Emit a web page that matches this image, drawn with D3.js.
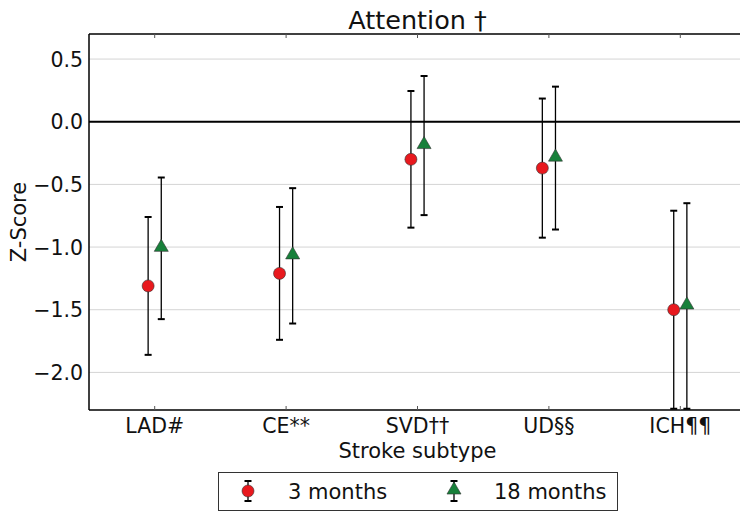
<!DOCTYPE html>
<html><head><meta charset="utf-8">
<script src="https://cdn.jsdelivr.net/npm/d3@7"></script>
<style>body{margin:0;background:#fff;}svg{display:block;font-family:"DejaVu Sans",sans-serif;}</style>
</head><body>
<svg id="c" width="740" height="512"></svg>
<script>
const categories = ["LAD#", "CE**", "SVD††", "UD§§", "ICH¶¶"];
const seriesNames = ["3 months", "18 months"];
const mean3 = [-1.31, -1.21, -0.30, -0.37, -1.50];
const err3 = [0.55, 0.53, 0.545, 0.555, 0.79];
const mean18 = [-1.01, -1.07, -0.19, -0.29, -1.47];
const err18 = [0.565, 0.54, 0.555, 0.57, 0.82];
const yTicks = [0.5, 0.0, -0.5, -1.0, -1.5, -2.0];
const yTickLabels = ["0.5", "0.0", "\u22120.5", "\u22121.0", "\u22121.5", "\u22122.0"];

const svg = d3.select("#c");
const L = 89, R = 746, T = 34, B = 410;
const x = d3.scaleLinear().domain([-0.5, 4.5]).range([L, R]);
const y = d3.scaleLinear().domain([-2.3, 0.7]).range([B, T]);
const off = 0.05;
const red = "#e8191e", green = "#17803a";

const defs = svg.append("defs");
defs.append("clipPath").attr("id", "clip").append("rect")
  .attr("x", L).attr("y", T).attr("width", R - L).attr("height", B - T + 1);

// grid
svg.append("g").selectAll("line").data(yTicks).join("line")
  .attr("x1", L).attr("x2", R).attr("y1", d => y(d)).attr("y2", d => y(d))
  .attr("stroke", "#d4d4d4").attr("stroke-width", 1);
// zero line
svg.append("line").attr("x1", L).attr("x2", R).attr("y1", y(0)).attr("y2", y(0))
  .attr("stroke", "#000").attr("stroke-width", 2);

// spines
svg.append("line").attr("x1", L).attr("x2", R).attr("y1", T).attr("y2", T).attr("stroke", "#000").attr("stroke-width", 1.5);
svg.append("line").attr("x1", L).attr("x2", R).attr("y1", B).attr("y2", B).attr("stroke", "#000").attr("stroke-width", 1.5);
svg.append("line").attr("x1", L).attr("x2", L).attr("y1", T).attr("y2", B).attr("stroke", "#000").attr("stroke-width", 1.5);

// x ticks (inward, top and bottom)
const xi = d3.range(categories.length);
svg.append("g").selectAll("line").data(xi).join("line")
  .attr("x1", d => x(d)).attr("x2", d => x(d)).attr("y1", B).attr("y2", B - 4)
  .attr("stroke", "#555").attr("stroke-width", 1);
svg.append("g").selectAll("line").data(xi).join("line")
  .attr("x1", d => x(d)).attr("x2", d => x(d)).attr("y1", T).attr("y2", T + 4)
  .attr("stroke", "#555").attr("stroke-width", 1);

// x labels
svg.append("g").selectAll("text").data(categories).join("text")
  .attr("x", (d, i) => x(i)).attr("y", 433).attr("text-anchor", "middle")
  .attr("font-size", 20.5).attr("fill", "#111").text(d => d);
// y labels
svg.append("g").selectAll("text").data(yTicks).join("text")
  .attr("x", L - 6).attr("y", d => y(d) + 7.5).attr("text-anchor", "end")
  .attr("font-size", 20.5).attr("fill", "#111").text((d, i) => yTickLabels[i]);

// axis titles
svg.append("text").attr("x", (L + R) / 2).attr("y", 29).attr("text-anchor", "middle")
  .attr("font-size", 25.5).attr("fill", "#111").text("Attention \u2020");
svg.append("text").attr("x", (L + R) / 2).attr("y", 458).attr("text-anchor", "middle")
  .attr("font-size", 21).attr("fill", "#111").text("Stroke subtype");
svg.append("text").attr("transform", `translate(26,${(T + B) / 2}) rotate(-90)`)
  .attr("text-anchor", "middle").attr("font-size", 21).attr("fill", "#111").text("Z-Score");

const plot = svg.append("g").attr("clip-path", "url(#clip)");

function errbars(means, errs, dx) {
  const g = plot.append("g");
  means.forEach((m, i) => {
    const cx = x(i + dx);
    const y1 = y(m + errs[i]), y2 = y(m - errs[i]);
    g.append("line").attr("x1", cx).attr("x2", cx).attr("y1", y1).attr("y2", y2)
      .attr("stroke", "#000").attr("stroke-width", 1.3);
    [y1, y2].forEach(yy => g.append("line").attr("x1", cx - 3.5).attr("x2", cx + 3.5)
      .attr("y1", yy).attr("y2", yy).attr("stroke", "#000").attr("stroke-width", 2));
  });
}
errbars(mean3, err3, -off);
errbars(mean18, err18, off);

const tri = d3.symbol().type(d3.symbolTriangle).size(85);
plot.append("g").selectAll("circle").data(mean3).join("circle")
  .attr("cx", (d, i) => x(i - off)).attr("cy", d => y(d)).attr("r", 6)
  .attr("fill", red).attr("stroke", "#333").attr("stroke-width", 0.6);
plot.append("g").selectAll("path").data(mean18).join("path")
  .attr("d", tri).attr("transform", (d, i) => `translate(${x(i + off)},${y(d) - 1})`)
  .attr("fill", green).attr("stroke", "#333").attr("stroke-width", 0.6);

// legend
const lg = svg.append("g");
lg.append("rect").attr("x", 218.5).attr("y", 472.5).attr("width", 399).attr("height", 38)
  .attr("fill", "#fff").attr("stroke", "#333").attr("stroke-width", 1);
function legItem(cx, label, kind) {
  const cy = 491;
  lg.append("line").attr("x1", cx).attr("x2", cx).attr("y1", cy - 10).attr("y2", cy + 10).attr("stroke", "#000").attr("stroke-width", 1.3);
  [cy - 10, cy + 10].forEach(yy => lg.append("line").attr("x1", cx - 3.5).attr("x2", cx + 3.5).attr("y1", yy).attr("y2", yy).attr("stroke", "#000").attr("stroke-width", 2));
  if (kind === "c") lg.append("circle").attr("cx", cx).attr("cy", cy).attr("r", 6).attr("fill", red).attr("stroke", "#333").attr("stroke-width", 0.6);
  else lg.append("path").attr("d", tri).attr("transform", `translate(${cx},${cy - 1})`).attr("fill", green).attr("stroke", "#333").attr("stroke-width", 0.6);
  lg.append("text").attr("x", cx + 40).attr("y", cy + 7.5).attr("font-size", 21).attr("fill", "#111").text(label);
}
legItem(248, seriesNames[0], "c");
legItem(454, seriesNames[1], "t");
</script>
</body></html>
